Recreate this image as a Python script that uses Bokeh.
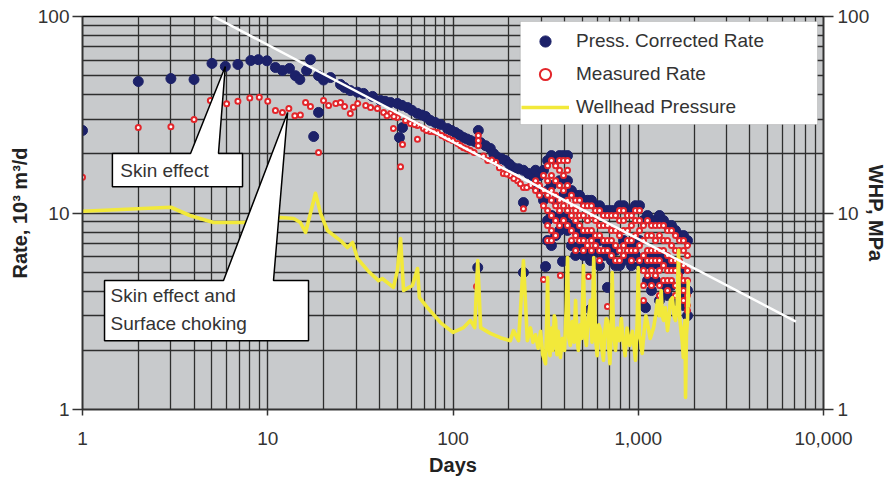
from bokeh.plotting import figure
from bokeh.models import (Range1d, LogScale, LogAxis, FixedTicker, NumeralTickFormatter,
                          Legend, LegendItem, BoxAnnotation)
from bokeh.core.properties import value
from bokeh.embed import file_html
from bokeh.resources import INLINE

# ---- data -------------------------------------------------------------
# pressure corrected rate (10^3 m3/d), individual readings
press_days = [1, 2, 3, 4, 5, 5.9, 6.9, 8.1, 8.9, 9.9, 11, 12, 13.1, 14.1, 14.9,
              16.2, 17, 18.8, 20, 18.8, 17.7, 21.8, 24.7, 27.9, 32.9,
              36.8, 40.6, 46, 50.1, 56.8, 64.3, 71.1, 75.4, 85.6, 93.4,
              103, 114, 124, 137, 141, 159, 174, 192, 212, 240,
              269, 53.4, 51.4, 240, 136, 240, 316, 390, 552, 682,
              552, 1067, 1094,
              26, 30.5, 43, 53, 60, 68, 80, 98, 108, 119, 132, 150, 166, 183, 202, 226, 255]
press_rate = [26.3, 46.7, 48.3, 47.8, 57.7, 55.7, 57, 59.7, 60.3, 59.5, 55, 53.1, 54.4, 50, 47.8,
              53.1, 60.3, 50, 47.5, 32.5, 24.5, 48.9, 45.1, 42.0, 40.6,
              39.2, 37.4, 36.5, 36.1, 34.4, 32.1, 31.0, 29.6, 28.2, 26.9,
              25.7, 24.2, 23.4, 26.3, 22.8, 21.3, 19.2, 18.5, 17.0, 16.5,
              15.5, 27.2, 24.2, 11.3, 5.28, 4.98, 5.34, 5.67, 5.73, 4.18,
              3.23, 5.40, 3.30,
              43.5, 41.2, 37, 35.3, 33.3, 31.5, 28.9, 26.3, 25, 23.8, 23, 22, 20, 18.9, 17.7, 16.8, 15.9]

# measured rate (10^3 m3/d), individual readings
meas_days = [1, 2, 3, 4, 4.9, 6, 6.9, 8, 9, 10, 11, 12, 13, 14, 15,
             16.0, 17.0, 18.8, 20, 21.3, 23.3, 24.7, 27.9, 30.6, 33.8,
             35.9, 39.1, 42.2, 46, 50.1, 55.4, 59, 64.3, 69.3, 75.4,
             82.5, 91.1, 99.4, 106, 114, 124, 137, 137, 137, 154,
             170, 187, 204, 223, 240, 262, 47.7, 53.4, 52.1, 64.3,
             240, 134, 308, 539, 682, 380,
             26, 29, 44, 48, 62, 72, 79, 87, 95, 110, 119, 130, 146, 162, 178, 195, 213, 231, 250]
meas_rate = [15.2, 27.2, 27.5, 29.9, 37.4, 36, 37, 38.5, 38.8, 37, 33.2, 32.5, 34, 31.3, 31.5,
             36.5, 34.8, 20.3, 37.4, 35.2, 36.1, 36.5, 32.1, 36.1, 35.2,
             34.4, 34.0, 32.5, 32.1, 30.6, 29.6, 28.5, 27.9, 26.9, 26.0,
             25.7, 24.2, 23.4, 22.6, 21.5, 20.8, 24.8, 23.4, 22.0, 18.5,
             18.1, 15.9, 15.5, 14.6, 13.5, 13.8, 26.9, 22.3, 17.2, 23.7,
             10.5, 4.23, 4.59, 4.75, 3.34, 4.81,
             34.8, 34.5, 31.3, 31, 28.2, 26.3, 25.9, 24.8, 23.8, 22, 21.2, 20.3, 19.5, 18.6, 17, 15.8, 15, 14.1, 13.5]

# late period: several readings grouped by day
late_days = [279, 293, 308, 324, 340, 358, 376, 395, 415, 436, 459, 482, 506,
             532, 559, 588, 618, 649, 682, 717, 754, 792, 833, 875, 919, 966,
             1016, 1067, 1122, 1179, 1239, 1302, 1369, 1439, 1512, 1589, 1670, 1755, 1845]
late_meas = [
    [14.6, 13.0], [13.8, 12.3], [15.5, 13.0, 10.9],
    [17.4, 14.6, 12.3, 10.3, 8.64, 7.24], [18.5, 15.5, 13.0, 11.6, 9.71, 8.15, 7.24],
    [17.4, 14.6, 12.3, 10.9, 9.16, 7.68], [18.5, 16.5, 13.8, 11.6, 10.3, 8.64],
    [18.5, 15.5, 13.0, 10.9, 9.16], [18.5, 16.5, 13.8, 11.6, 10.3, 8.64],
    [12.3, 10.9, 9.71, 8.15, 7.24], [11.6, 10.3, 9.16, 7.68, 6.45],
    [11.6, 9.71, 8.64, 7.24], [10.9, 9.71, 8.15, 7.24, 6.45],
    [10.9, 9.16, 8.15, 6.83], [10.9, 9.71, 8.15, 7.24, 6.45],
    [10.3, 9.16, 7.68, 6.83], [10.3, 8.64, 7.68, 6.45, 5.73],
    [9.71, 8.64, 7.24, 6.45], [9.71, 8.64, 7.24, 6.45],
    [9.71, 8.15, 7.24, 6.08], [9.71, 8.15, 6.83, 5.73],
    [10.3, 9.16, 7.68, 6.45, 5.73], [10.3, 9.16, 8.15, 6.83, 6.08],
    [9.71, 8.15, 7.24, 6.45], [9.71, 8.64, 7.24, 6.45, 5.73],
    [10.3, 9.16, 7.68, 6.45], [10.3, 9.16, 8.15, 6.83, 5.73],
    [8.64, 7.24, 6.08, 5.10, 4.28, 3.59], [9.16, 7.68, 6.45, 5.73, 4.81],
    [8.64, 7.68, 6.45, 5.73, 5.10, 4.28], [8.64, 7.24, 6.45, 5.73, 4.81],
    [8.64, 7.68, 6.45, 5.73, 5.10, 4.28, 3.80], [8.64, 7.24, 6.45, 5.40, 4.53],
    [8.15, 7.24, 6.08, 5.10, 4.53, 4.03], [8.15, 6.83, 5.73, 5.10, 4.53],
    [7.68, 6.45, 5.73, 5.10, 4.28, 3.80], [7.24, 6.45, 5.73, 4.81, 4.03],
    [7.24, 6.45, 5.40, 4.53, 4.03, 3.59], [6.83, 6.08, 5.10, 4.53, 3.80, 3.38, 3.19],
]
late_press = [
    [16.5, 13.8], [15.5, 13.0], [16.5, 11.6],
    [18.5, 13.0, 9.16, 7.24], [19.6, 13.8, 9.71, 6.83],
    [18.5, 11.6, 7.68], [19.6, 14.6, 9.71, 8.15],
    [19.6, 12.3, 8.64], [19.6, 14.6, 9.71, 8.15],
    [13.0, 8.64, 6.83], [12.3, 8.15, 6.08],
    [12.3, 6.83], [11.6, 7.68, 6.08],
    [11.6, 6.45], [11.6, 7.68, 6.08],
    [10.9, 6.45], [10.9, 7.24, 5.40],
    [10.3, 6.08], [10.3, 6.83, 6.08],
    [10.3, 5.73], [10.3, 6.45, 5.40],
    [10.9, 5.40], [10.9, 7.24, 5.73],
    [10.3, 6.08], [10.3, 6.83, 5.40],
    [10.9, 6.08], [10.9, 7.24, 5.40],
    [9.16, 5.73, 3.38], [9.71, 6.08, 4.53],
    [9.16, 5.40, 4.03], [9.16, 6.08, 4.53],
    [9.71, 5.40, 3.59], [9.16, 6.08, 4.28],
    [8.64, 5.73, 3.80], [8.64, 5.40, 4.28],
    [8.15, 5.40, 3.59], [7.68, 5.10, 3.80],
    [7.68, 4.28, 3.38], [7.24, 4.03, 3.0],
]

# wellhead pressure (MPa)
whp_days = [1, 3.0, 3.8, 5.1, 7.4, 11.7, 13.8, 15.0, 16.0, 18.1,
            19.3, 21.0, 24.7, 26.9, 28.7, 30.5, 34.6, 39.6, 41.5, 47.7,
            50.1, 52.1, 54.1, 60.4, 64.3, 65.9, 72.8, 85.6, 100, 114,
            124, 131, 136, 141, 159, 180, 204, 212, 226, 240,
            252, 262, 270, 279, 288, 297, 305, 316, 320, 324,
            328, 334, 340, 346, 352, 358, 364, 370, 380, 390,
            400, 408, 415, 422, 430, 440, 450, 459, 467, 475,
            485, 495, 506, 515, 525, 538, 552, 563, 575, 588,
            600, 612, 627, 638, 649, 660, 672, 682, 692, 703,
            713, 723, 735, 754, 770, 792, 810, 830, 850, 870,
            900, 930, 966, 985, 1000, 1015, 1030, 1050, 1080, 1100,
            1122, 1160, 1210, 1240, 1270, 1300, 1330, 1350, 1369, 1400,
            1439, 1470, 1490, 1530, 1560, 1589, 1620, 1650, 1670, 1700,
            1730, 1750, 1770, 1790, 1800, 1820, 1845, 1860, 1870]
whp_mpa = [10.2, 10.7, 9.71, 8.95, 8.95, 9.49, 9.38, 8.95, 7.96, 12.6,
           9.94, 8.15, 7.24, 6.67, 7.08, 5.87, 5.10, 4.53, 4.64, 4.18,
           5.10, 7.42, 4.03, 4.28, 5.22, 3.71, 3.30, 2.77, 2.47, 2.61,
           2.84, 2.61, 5.73, 2.61, 2.44, 2.32, 2.24, 2.52, 2.24, 5.73,
           2.24, 2.6, 2.2, 2.4, 2.05, 2.5, 1.9, 1.71, 2.6, 4.70,
           2.2, 1.88, 2.6, 2.0, 3.0, 2.84, 1.9, 2.5, 1.84, 2.3,
           2.0, 3.2, 5.94, 2.3, 2.12, 2.8, 2.2, 3.59, 2.3, 2.0,
           2.7, 2.3, 5.40, 2.4, 2.12, 2.9, 3.59, 2.2, 5.94, 2.3,
           1.88, 2.7, 2.52, 2.0, 1.78, 2.5, 2.9, 2.84, 2.1, 1.71,
           2.4, 4.98, 2.5, 2.0, 2.6, 2.24, 2.9, 2.2, 1.88, 2.6,
           2.12, 2.5, 1.78, 2.6, 5.28, 2.4, 2.24, 1.93, 2.6, 3.0,
           2.74, 2.3, 2.61, 3.0, 3.59, 3.0, 4.03, 3.0, 2.84, 3.3,
           2.52, 3.0, 3.59, 3.71, 3.0, 2.84, 3.4, 6.45, 3.0, 2.52,
           2.2, 1.84, 2.6, 2.84, 1.15, 2.4, 2.84, 4.5, 3.30]

# decline trend line
trend_days = [5.1, 7100]
trend_rate = [100, 2.8]

x_ticks = [1, 10, 100, 1000, 10000]
y_ticks = [1, 10, 100]

# ---- figure -----------------------------------------------------------
NAVY = "#1c2169"
RED = "#e3262b"
YELLOW = "#f2e93a"
FONT = "Liberation Sans"

p = figure(width=893, height=481, x_axis_type="log", y_axis_type="log",
           x_range=Range1d(1, 10000), y_range=Range1d(1, 100),
           output_backend="svg", toolbar_location=None,
           min_border_left=82, min_border_right=70, min_border_top=16, min_border_bottom=72)
p.background_fill_color = "#c8cacc"
p.border_fill_color = "white"
p.outline_line_color = "black"
p.outline_line_width = 1.5

x_minor = [m * 10 ** e for e in range(4) for m in range(2, 10)]
y_minor = [m * 10 ** e for e in range(2) for m in range(2, 10)]
xt = FixedTicker(ticks=x_ticks, minor_ticks=x_minor)
yt = FixedTicker(ticks=y_ticks, minor_ticks=y_minor)
bottom_axis = p.xaxis[0]
left_axis = p.yaxis[0]
bottom_axis.ticker = xt
left_axis.ticker = yt
p.xgrid.ticker = xt
p.ygrid.ticker = yt
for g in (p.xgrid, p.ygrid):
    g.grid_line_color = "#2e2e2e"
    g.grid_line_width = 1.4
    g.minor_grid_line_color = "#2e2e2e"
    g.minor_grid_line_width = 1.3

p.extra_y_ranges = {"whp": Range1d(1, 100)}
p.extra_y_scales = {"whp": LogScale()}
right_axis = LogAxis(y_range_name="whp", ticker=FixedTicker(ticks=y_ticks),
                     axis_label="WHP, MPa")
p.add_layout(right_axis, "right")

bottom_axis.axis_label = "Days"
left_axis.axis_label = "Rate, 10³ m³/d"
fmt = NumeralTickFormatter(format="0,0")
for ax in (bottom_axis, left_axis, right_axis):
    ax.formatter = fmt
    ax.minor_tick_line_color = None
    ax.major_tick_in = 0
    ax.axis_line_color = "#333333"
    ax.axis_line_width = 1.5
    ax.major_tick_line_color = "#333333"
    ax.major_tick_line_width = 1.5
    ax.major_label_text_font = FONT
    ax.major_label_text_font_size = "19px"
    ax.major_label_text_color = "#333333"
    ax.axis_label_text_font = FONT
    ax.axis_label_text_font_size = "20px"
    ax.axis_label_text_font_style = "bold"
    ax.axis_label_text_color = "#222222"
bottom_axis.major_tick_out = 6
bottom_axis.major_label_standoff = 16
bottom_axis.axis_label_standoff = 6
left_axis.major_tick_out = 10
left_axis.major_label_standoff = 3
left_axis.axis_label_standoff = 4
right_axis.major_tick_out = 10
right_axis.major_label_standoff = 4
right_axis.axis_label_standoff = -7

# ---- marks ------------------------------------------------------------
late_press_x = [d for d, col in zip(late_days, late_press) for _ in col]
late_press_y = [r for col in late_press for r in col]
late_meas_x = [d for d, col in zip(late_days, late_meas) for _ in col]
late_meas_y = [r for col in late_meas for r in col]

navy_r = p.scatter(press_days + late_press_x, press_rate + late_press_y, size=10,
                   fill_color=NAVY, line_color=NAVY, line_width=1)
red_r = p.scatter(meas_days + late_meas_x, meas_rate + late_meas_y, size=5,
                  fill_color="white", line_color=RED, line_width=2)
whp_r = p.line(whp_days, whp_mpa, y_range_name="whp", line_color=YELLOW,
               line_width=3.6, line_join="round")
p.line(trend_days, trend_rate, line_color="white", line_width=2.5)

# call-out boxes
box_style = dict(fill_color="white", line_color="black", line_width=1.5)
p.patch([1.45, 3.83, 5.9, 5.42, 7.31, 7.31, 1.45],
        [20.1, 20.1, 55.7, 20.1, 20.1, 13.6, 13.6], **box_style)
p.patch([1.315, 5.77, 12.8, 10.74, 16.6, 16.6, 1.315],
        [4.53, 4.53, 32.5, 4.53, 4.53, 2.24, 2.24], **box_style)
txt_style = dict(text_font=value(FONT), text_font_size="19px", text_color="#333333",
                 text_align="left", text_baseline="middle")
p.text(x=[1.6], y=[16.5], text=["Skin effect"], **txt_style)
p.text(x=[1.417, 1.417], y=[3.80, 2.74], text=["Skin effect and", "Surface choking"], **txt_style)

# legend
p.add_layout(BoxAnnotation(left=231, right=9282, top=94.3, bottom=28.2,
                           fill_color="white", fill_alpha=1.0,
                           line_color="#8a8a8a", line_width=1))
legend = Legend(items=[LegendItem(label="Press. Corrected Rate", renderers=[navy_r]),
                       LegendItem(label="Measured Rate", renderers=[red_r]),
                       LegendItem(label="Wellhead Pressure", renderers=[whp_r])],
                location=(439, 288), border_line_color=None, background_fill_alpha=0,
                padding=3, spacing=5, margin=0, glyph_width=48, glyph_height=28,
                label_height=28, label_standoff=7,
                label_text_font=FONT, label_text_font_size="19px",
                label_text_color="#333333")
p.add_layout(legend)

open("out.html", "w").write(file_html(p, INLINE))
